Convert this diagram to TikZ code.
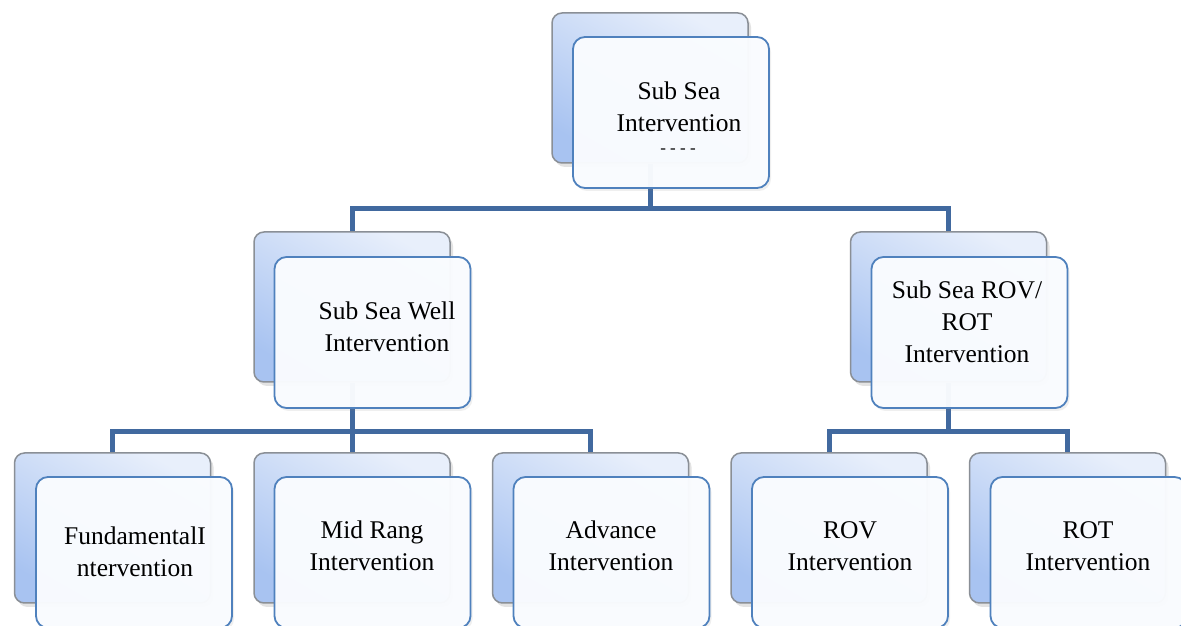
\documentclass[tikz,border=0pt]{standalone}
\usepackage{fontspec}
\setmainfont{Liberation Serif}
\usetikzlibrary{shadows,calc}
\pgfdeclarelayer{bg}
\pgfdeclarelayer{canvas}
\pgfsetlayers{canvas,bg,main}
\definecolor{backtop}{HTML}{E8EFFB}
\definecolor{backbot}{HTML}{A8C3F1}
\definecolor{backedge}{HTML}{8A8F96}
\definecolor{frontedge}{HTML}{4F81BD}
\definecolor{frontfill}{HTML}{FAFCFF}
\definecolor{connc}{HTML}{41699F}
\tikzset{
  backbox/.style={draw=backedge, line width=1.5pt, rounded corners=10pt,
    minimum width=196pt, minimum height=150pt, inner sep=0pt,
    top color=backtop, bottom color=backbot, shading angle=-30,
    drop shadow={opacity=0.22, shadow xshift=3pt, shadow yshift=-4pt}},
  frontbox/.style={draw=frontedge, line width=1.8pt, rounded corners=12pt,
    minimum width=196pt, minimum height=151pt, inner sep=0pt,
    fill=frontfill, fill opacity=0.97,
    drop shadow={opacity=0.12, shadow xshift=2pt, shadow yshift=-3pt}},
  lbl/.style={align=center, inner sep=0pt, text=black,
    font=\fontsize{25.5}{32}\selectfont},
  conn/.style={draw=connc, line width=5pt}
}
\begin{document}
\begin{tikzpicture}[x=1pt,y=1pt]
\clip (0,0) rectangle (1181,626);
\useasboundingbox (0,0) rectangle (1181,626);
\begin{pgfonlayer}{canvas}
\fill[white] (0,0) rectangle (1181,626);
\end{pgfonlayer}
% back boxes
\node[backbox] (tB) at (650,538) {};
\node[backbox] (wB) at (352,319) {};
\node[backbox] (rB) at (948.5,319) {};
\node[backbox] (fB) at (112.5,98) {};
\node[backbox] (mB) at (352,98) {};
\node[backbox] (aB) at (590.5,98) {};
\node[backbox] (vB) at (829,98) {};
\node[backbox] (oB) at (1067.5,98) {};
% front boxes
\node[frontbox] (tF) at (671,513.5) {};
\node[frontbox] (wF) at (372.5,293.5) {};
\node[frontbox] (rF) at (969.5,293.5) {};
\node[frontbox] (fF) at (134,73.5) {};
\node[frontbox] (mF) at (372.5,73.5) {};
\node[frontbox] (aF) at (611.5,73.5) {};
\node[frontbox] (vF) at (850,73.5) {};
\node[frontbox] (oF) at (1088.5,73.5) {};
% labels
\node[lbl] (tL) at (679,519) {Sub Sea\\Intervention};
\node[font=\fontsize{17}{17}\selectfont, inner sep=0pt] (tD) at (678,475) {- - - -};
\node[lbl] (wL) at (387,299.5) {Sub Sea Well\\Intervention};
\node[lbl] (rL) at (967,304) {Sub Sea ROV/\\ROT\\Intervention};
\node[lbl] (fL) at (135,74.5) {FundamentalI\\ntervention};
\node[lbl] (mL) at (372,80) {Mid Rang\\Intervention};
\node[lbl] (aL) at (611,80) {Advance\\Intervention};
\node[lbl] (vL) at (850,80) {ROV\\Intervention};
\node[lbl] (oL) at (1088,80) {ROT\\Intervention};
% connectors
\begin{pgfonlayer}{bg}
\draw[conn] (tB.south) -- ++(0,-45) coordinate (tbar);
\draw[conn] (wB.north) |- (tbar) -| (rB.north);
\draw[conn] (wB.south) -- ++(0,-49) coordinate (wbar);
\draw[conn] (fB.north) |- (wbar) -| (aB.north);
\draw[conn] (wbar) -- (mB.north);
\draw[conn] (rB.south) -- ++(0,-49) coordinate (rbar);
\draw[conn] (vB.north) |- (rbar) -| (oB.north);
\end{pgfonlayer}
\end{tikzpicture}
\end{document}
